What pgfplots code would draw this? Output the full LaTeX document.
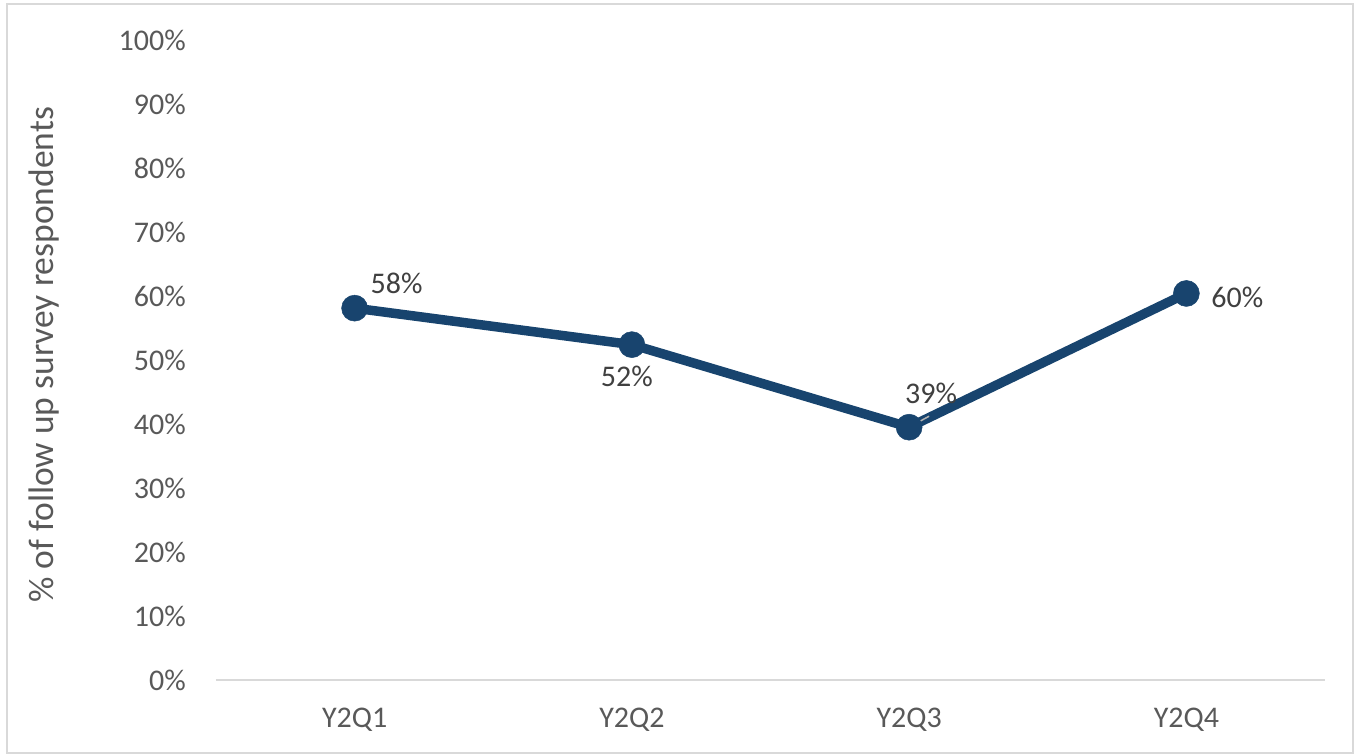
\documentclass[border=0pt]{standalone}
\usepackage{pgfplots}
\pgfplotsset{compat=1.18}
\usepackage{fontspec}
\setmainfont{Carlito}
\definecolor{lineblue}{RGB}{24,68,110}
\definecolor{ticktext}{RGB}{89,89,89}
\definecolor{labeltext}{RGB}{64,64,64}
\definecolor{gridgray}{RGB}{217,217,217}
\newcommand{\cf}{\fontsize{30bp}{36bp}\selectfont}
\newcommand{\lf}{\fontsize{35.5bp}{42bp}\selectfont}
\begin{document}
\cf
\begin{tikzpicture}
\begin{axis}[
  scale only axis, width=1109bp, height=640bp,
  clip=false,
  xmin=-0.5, xmax=3.5, ymin=0, ymax=100,
  xtick={0,1,2,3}, xticklabels={Y2Q1,Y2Q2,Y2Q3,Y2Q4},
  ytick={0,10,...,100},
  yticklabel={\pgfmathprintnumber{\tick}\%},
  /pgf/number format/assume math mode=true,
  axis x line*=bottom, axis y line*=left,
  y axis line style={draw=none},
  x axis line style={draw=gridgray, line width=2bp, -},
  major tick length=0pt, tick style={draw=none},
  yticklabel style={font=\cf, text=ticktext, xshift=-20bp},
  xticklabel style={font=\cf, text=ticktext, yshift=-18bp},
  every axis y label/.style={at={(rel axis cs:-0.1551,0.508)}, rotate=90, anchor=center, font=\lf, text=ticktext},
  ylabel={\% of follow up survey respondents},
]
\path (rel axis cs:-0.19477,-0.11563) rectangle (rel axis cs:1.02795,1.0625);
\draw[gridgray, line width=2bp] (rel axis cs:-0.18846,-0.11406) rectangle (rel axis cs:1.02525,1.05625);

\addplot[lineblue, line width=9.5bp, mark=*, mark size=13bp,
  mark options={solid, line width=0.5bp, fill=lineblue, draw=lineblue}]
  coordinates {(0,58.1) (1,52.4) (2,39.5) (3,60.4)};

\draw[gray!60, line width=1.5bp] (axis cs:2,39.5) -- ++(20bp,11bp);

\addplot[draw=none, mark=none, point meta=explicit symbolic, nodes near coords,
  nodes near coords style={anchor=center, xshift=42bp, yshift=25bp, font=\cf, text=labeltext}]
  coordinates {(0,58.1) [58\%]};
\addplot[draw=none, mark=none, point meta=explicit symbolic, nodes near coords,
  nodes near coords style={anchor=center, xshift=-5bp, yshift=-32bp, font=\cf, text=labeltext}]
  coordinates {(1,52.4) [52\%]};
\addplot[draw=none, mark=none, point meta=explicit symbolic, nodes near coords,
  nodes near coords style={anchor=center, xshift=22bp, yshift=34bp, font=\cf, text=labeltext}]
  coordinates {(2,39.5) [39\%]};
\addplot[draw=none, mark=none, point meta=explicit symbolic, nodes near coords,
  nodes near coords style={anchor=center, xshift=51bp, yshift=-4bp, font=\cf, text=labeltext}]
  coordinates {(3,60.4) [60\%]};
\end{axis}
\end{tikzpicture}
\end{document}
